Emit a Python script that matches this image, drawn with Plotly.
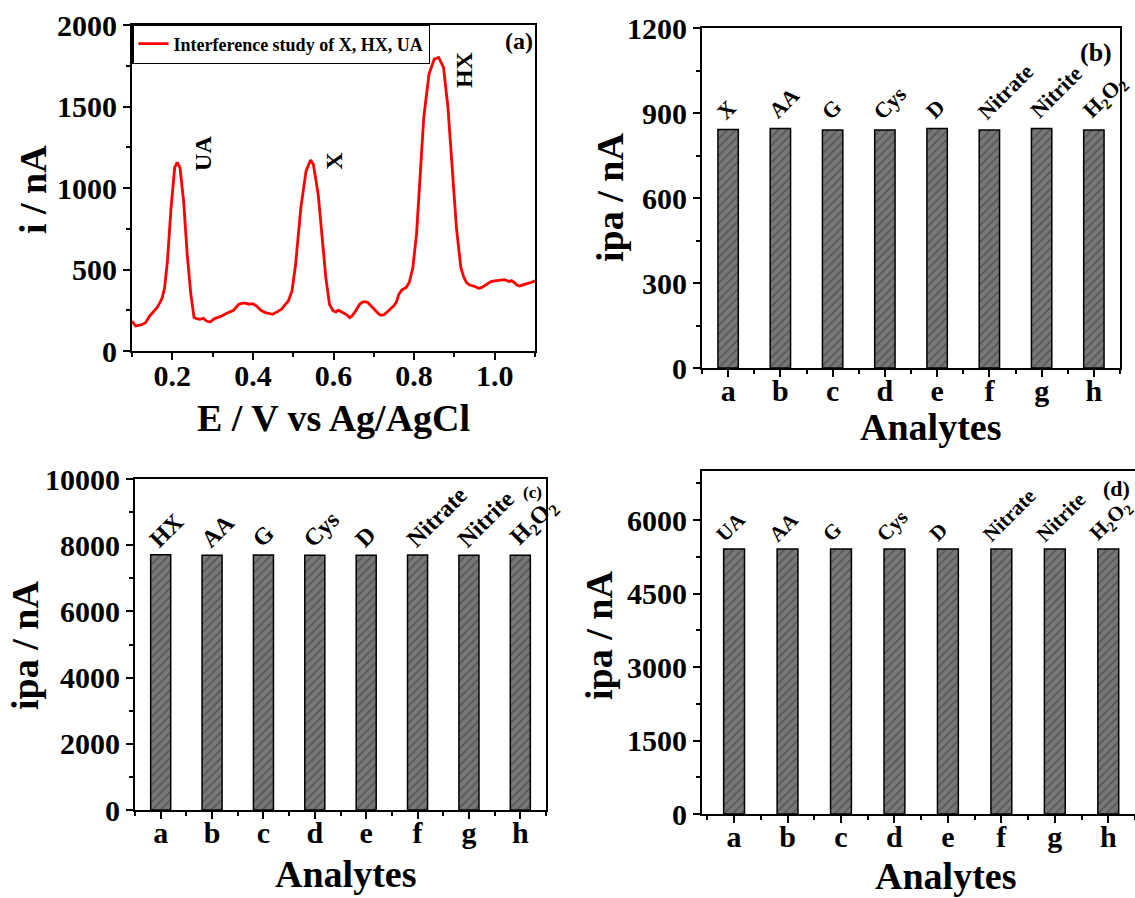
import plotly.graph_objects as go

# ---------------- data ----------------
# Panel (a): DPV curve
pot_V = [0.100, 0.109, 0.122, 0.133, 0.144, 0.153, 0.162, 0.170, 0.175, 0.181, 0.188, 0.197, 0.206, 0.212,
         0.219, 0.228, 0.237, 0.246, 0.254, 0.261, 0.268, 0.277, 0.285, 0.294, 0.303, 0.312, 0.320, 0.338,
         0.352, 0.365, 0.378, 0.391, 0.400, 0.409, 0.420, 0.431, 0.440, 0.449, 0.460, 0.471, 0.480, 0.488,
         0.497, 0.506, 0.519, 0.532, 0.543, 0.550, 0.562, 0.572, 0.581, 0.590, 0.599, 0.606, 0.612, 0.618,
         0.625, 0.633, 0.640, 0.646, 0.652, 0.660, 0.665, 0.672, 0.678, 0.685, 0.691, 0.698, 0.705, 0.712,
         0.718, 0.725, 0.731, 0.740, 0.749, 0.756, 0.762, 0.770, 0.780, 0.788, 0.797, 0.806, 0.815, 0.824,
         0.837, 0.850, 0.861, 0.873, 0.884, 0.894, 0.905, 0.916, 0.923, 0.930, 0.938, 0.947, 0.954, 0.961,
         0.968, 0.974, 0.982, 0.991, 1.000, 1.013, 1.024, 1.036, 1.042, 1.049, 1.055, 1.062, 1.071, 1.080,
         1.090, 1.100]
cur_nA = [184, 153, 160, 172, 215, 240, 266, 300, 327, 389, 553, 880, 1126, 1157,
          1126, 921, 594, 348, 205, 198, 194, 200, 184, 178, 196, 205, 212, 235,
          250, 287, 295, 287, 290, 276, 250, 235, 228, 225, 240, 256, 285, 307,
          368, 532, 880, 1105, 1171, 1146, 962, 716, 450, 287, 246, 240, 250, 242,
          235, 222, 205, 215, 235, 270, 287, 300, 303, 298, 282, 262, 246, 228,
          219, 222, 235, 255, 276, 300, 348, 375, 389, 420, 512, 716, 1085, 1433,
          1699, 1791, 1801, 1740, 1494, 1126, 757, 512, 455, 420, 405, 399, 392, 385,
          390, 399, 412, 426, 430, 434, 438, 426, 432, 420, 405, 399, 408, 413,
          420, 430]

# Bar panels
analytes = ["a", "b", "c", "d", "e", "f", "g", "h"]
labels_b = ["X", "AA", "G", "Cys", "D", "Nitrate", "Nitrite", "H<sub>2</sub>O<sub>2</sub>"]
ipa_b = [842, 845, 840, 840, 845, 840, 845, 840]
labels_c = ["HX", "AA", "G", "Cys", "D", "Nitrate", "Nitrite", "H<sub>2</sub>O<sub>2</sub>"]
ipa_c = [7710, 7700, 7705, 7700, 7700, 7705, 7700, 7700]
labels_d = ["UA", "AA", "G", "Cys", "D", "Nitrate", "Nitrite", "H<sub>2</sub>O<sub>2</sub>"]
ipa_d = [5410, 5410, 5410, 5410, 5410, 5410, 5410, 5410]

peak_names = ["UA", "X", "HX"]
peak_x = [0.276, 0.601, 0.924]
peak_y = [1215, 1166, 1724]

# ---------------- style ----------------
FAM = "Liberation Serif, Times New Roman, serif"
W, H = 1135, 898


def dom_x(a, b):
    return [a / W, b / W]


def dom_y(top, bottom):
    return [1 - bottom / H, 1 - top / H]


tickfont = dict(family=FAM, size=30, color="black", weight="bold")
titlefont = dict(family=FAM, size=38, color="black", weight="bold")

fig = go.Figure()

# Panel (a)
fig.add_trace(go.Scatter(x=pot_V, y=cur_nA, mode="lines", name="Interference study of X, HX, UA",
                         line=dict(color="#ff0000", width=2.8), xaxis="x", yaxis="y", showlegend=True))

bar_pattern = dict(shape="/", fgcolor="#2e2e2e", bgcolor="#777777", size=6, solidity=0.25)
xs = list(range(len(analytes)))
for vals, xa, ya in [(ipa_b, "x2", "y2"), (ipa_c, "x3", "y3"), (ipa_d, "x4", "y4")]:
    fig.add_trace(go.Bar(x=xs, y=vals, width=0.39, xaxis=xa, yaxis=ya, showlegend=False,
                         marker=dict(color="#777777", pattern=bar_pattern,
                                     line=dict(color="black", width=1.5))))

common_ax = dict(showline=True, linecolor="black", linewidth=2, mirror=True, ticks="outside",
                 ticklen=7, tickwidth=2, tickcolor="black", showgrid=False, zeroline=False,
                 tickfont=tickfont, automargin=False, exponentformat="none", separatethousands=False)


def cat_xaxis(domain, anchor, rng):
    return dict(common_ax, domain=domain, anchor=anchor, range=rng, tickmode="array", tickvals=xs,
                ticktext=analytes, ticklabelstandoff=-12,
                minor=dict(tickmode="linear", tick0=-0.5, dtick=1, ticks="outside", ticklen=4,
                           tickwidth=2, tickcolor="black"))


def val_yaxis(domain, anchor, rng, dtick, mdtick):
    return dict(common_ax, domain=domain, anchor=anchor, range=rng, dtick=dtick, tick0=0,
                tickformat="d",
                minor=dict(dtick=mdtick, ticks="outside", ticklen=4, tickwidth=2, tickcolor="black"))


fig.update_layout(
    width=W, height=H, margin=dict(l=0, r=0, t=0, b=0, autoexpand=False),
    paper_bgcolor="white", plot_bgcolor="white",
    xaxis=dict(common_ax, domain=dom_x(132, 535), anchor="y", range=[0.1, 1.1], tick0=0.2, dtick=0.2,
               tickformat=".1f", ticklabelstandoff=-10,
               minor=dict(dtick=0.1, ticks="outside", ticklen=4, tickwidth=2, tickcolor="black")),
    yaxis=val_yaxis(dom_y(25, 351), "x", [0, 2000], 500, 250),
    xaxis2=cat_xaxis(dom_x(702, 1120), "y2", [-0.5, 7.5]),
    yaxis2=val_yaxis(dom_y(28, 368), "x2", [0, 1200], 300, 150),
    xaxis3=cat_xaxis(dom_x(135, 546), "y3", [-0.5, 7.5]),
    yaxis3=val_yaxis(dom_y(479, 810), "x3", [0, 10000], 2000, 1000),
    xaxis4=cat_xaxis(dom_x(702, 1135), "y4", [-0.6, 7.5]),
    yaxis4=val_yaxis(dom_y(471, 814), "x4", [0, 7000], 1500, 750),
    legend=dict(x=132 / W, y=1 - 24 / H, xanchor="left", yanchor="top", bgcolor="white",
                bordercolor="black", borderwidth=1.5,
                font=dict(family=FAM, size=18, color="black", weight="bold"),
                itemwidth=30, tracegroupgap=0),
    bargap=0.6,
)

ann = []
# axis titles
for txt, px_, py_, ang in [("E / V vs Ag/AgCl", 333, 418, 0), ("i / nA", 33, 190, -90),
                           ("Analytes", 930, 427, 0), ("ipa / nA", 610, 198, -90),
                           ("Analytes", 345, 874, 0), ("ipa / nA", 25, 646, -90),
                           ("Analytes", 945, 876, 0), ("ipa / nA", 599, 636, -90)]:
    ann.append(dict(x=px_ / W, y=1 - py_ / H, xref="paper", yref="paper", text=txt, showarrow=False,
                    textangle=ang, xanchor="center", yanchor="middle", font=titlefont))

# peak labels in (a)
for name, px_, py_ in zip(peak_names, peak_x, peak_y):
    ann.append(dict(x=px_, y=py_, xref="x", yref="y", text=name, showarrow=False, textangle=-90,
                    font=dict(family=FAM, size=24, color="black", weight="bold")))

# bar labels
for labels, vals, xr, yr, ysh, fs, xsh in [(labels_b, ipa_b, "x2", "y2", 3, 22, -19),
                                           (labels_c, ipa_c, "x3", "y3", 0, 24, -19),
                                           (labels_d, ipa_d, "x4", "y4", 0, 21, -26)]:
    for i, (lab, v) in enumerate(zip(labels, vals)):
        ann.append(dict(x=i, y=v, xref=xr, yref=yr, text=lab, showarrow=False, textangle=-45,
                        xanchor="left", yanchor="bottom", xshift=xsh, yshift=ysh,
                        font=dict(family=FAM, size=fs, color="black", weight="bold")))

# panel letters
for txt, px_, py_, sz in [("(a)", 519, 41, 24), ("(b)", 1096, 53, 26), ("(c)", 532, 492, 17), ("(d)", 1116, 488, 22)]:
    ann.append(dict(x=px_ / W, y=1 - py_ / H, xref="paper", yref="paper", text=txt, showarrow=False,
                    xanchor="center", yanchor="middle",
                    font=dict(family=FAM, size=sz, color="black", weight="bold")))

fig.update_layout(annotations=ann)
fig.write_html("out.html")
